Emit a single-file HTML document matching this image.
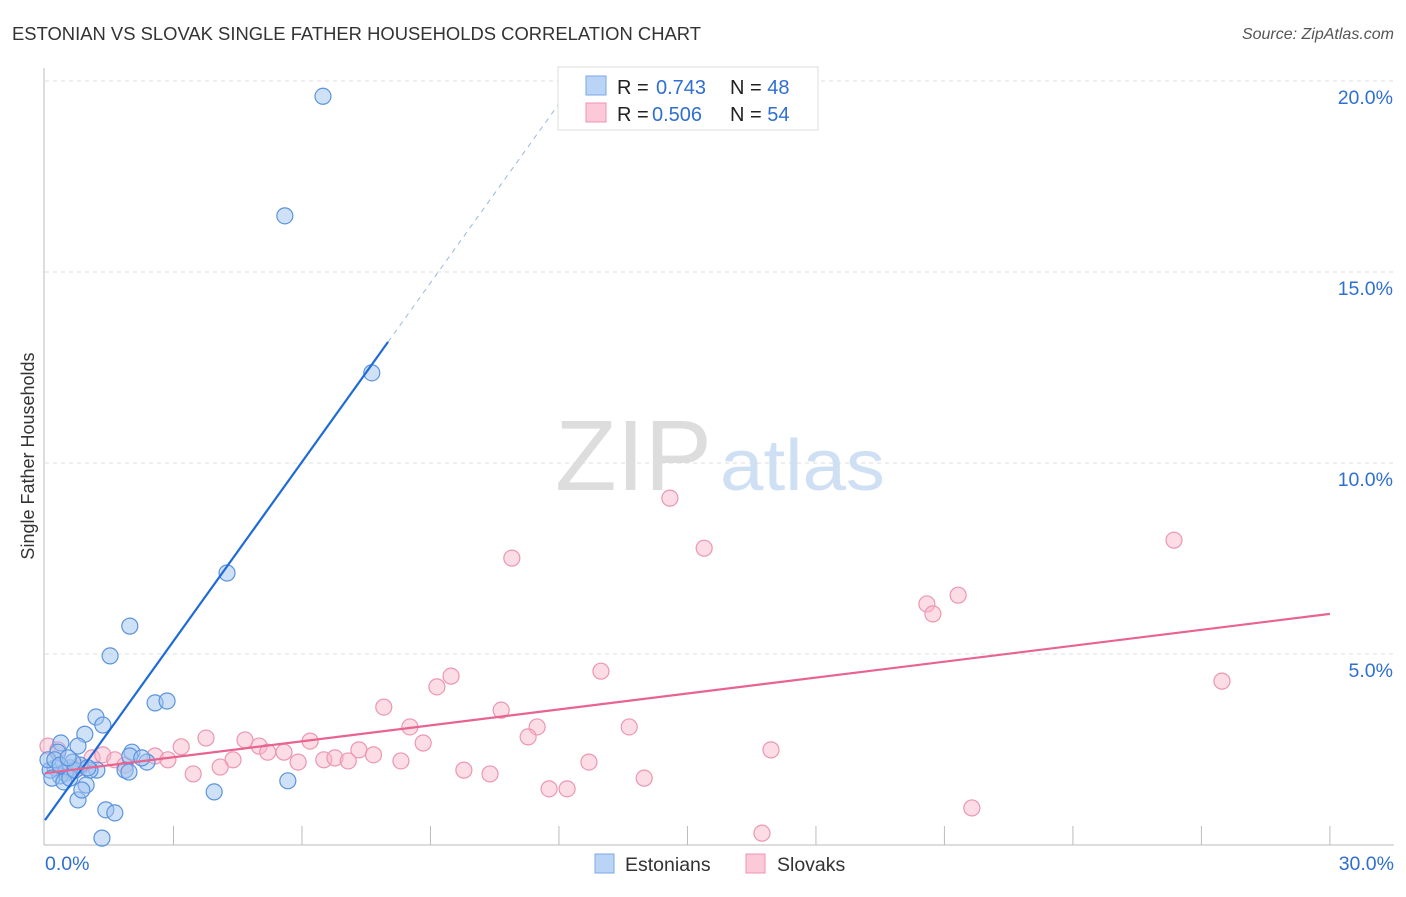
<!DOCTYPE html>
<html><head><meta charset="utf-8"><style>
body{margin:0;background:#fff;font-family:"Liberation Sans",sans-serif;}
svg text{font-family:"Liberation Sans",sans-serif;}
</style></head><body>
<svg id="chart" width="1406" height="892">
<text x="12" y="40" font-size="18" fill="#333" textLength="689" lengthAdjust="spacingAndGlyphs">ESTONIAN VS SLOVAK SINGLE FATHER HOUSEHOLDS CORRELATION CHART</text>
<text x="1394" y="39" font-size="16" fill="#555" font-style="italic" text-anchor="end">Source: ZipAtlas.com</text>
<text x="34" y="456" font-size="18" fill="#333" text-anchor="middle" transform="rotate(-90 34 456)">Single Father Households</text>
<g id="grid"></g>
<g><text x="555" y="490" font-size="100" fill="#ddd" font-family="Liberation Serif" textLength="157" lengthAdjust="spacingAndGlyphs">ZIP</text><text x="720" y="490" font-size="72" fill="#cfe0f4" textLength="165" lengthAdjust="spacingAndGlyphs">atlas</text></g>
<g id="pts"></g>
<g id="lines"></g>
<g>
<rect x="558" y="67" width="260" height="63" fill="#fff" stroke="#ddd"/>
<rect x="586" y="76" width="20" height="19" fill="#b9d4f5" stroke="#7aa9e6"/>
<rect x="586" y="103" width="20" height="19" fill="#fcc9d8" stroke="#f093b0"/>
<text x="617" y="94" font-size="20" fill="#222">R = <tspan fill="#2f6fd0" x="656">0.743</tspan><tspan fill="#222" x="730">N = </tspan><tspan fill="#2f6fd0">48</tspan></text>
<text x="617" y="121" font-size="20" fill="#222">R = <tspan fill="#2f6fd0" x="652">0.506</tspan><tspan fill="#222" x="730">N = </tspan><tspan fill="#2f6fd0">54</tspan></text>
</g>
<g>
<rect x="595" y="854" width="19" height="19" fill="#b9d4f5" stroke="#7aa9e6"/>
<text x="625" y="871" font-size="19.5" fill="#333">Estonians</text>
<rect x="746" y="854" width="19" height="19" fill="#fcc9d8" stroke="#f093b0"/>
<text x="777" y="871" font-size="19.5" fill="#333">Slovaks</text>
</g>
</svg>
<script>
const xTicks=[0,30];
const yTicks=[5,10,15,20];
const estX=[6.49,5.6,7.63,4.25,1.98,1.52,2.57,2.85,1.19,1.35,0.93,0.37,0.77,0.3,2.03,1.98,2.38,2.26,1.87,1.96,1.21,1.05,0.82,0.58,0.47,0.35,0.23,0.12,0.16,0.44,0.58,0.96,0.77,0.86,3.95,5.67,1.42,1.63,1.33,0.7,0.07,0.23,0.65,1.0,0.35,0.54];
const estY=[19.6,16.47,12.36,7.12,5.73,4.95,3.72,3.77,3.35,3.14,2.9,2.67,2.59,2.43,2.43,2.33,2.17,2.28,1.96,1.91,1.96,1.96,2.09,2.02,1.88,1.81,2.02,1.96,1.75,1.65,1.75,1.57,1.18,1.44,1.39,1.68,0.92,0.84,0.18,1.96,2.23,2.23,2.17,2.02,2.09,2.28];
const slvX=[14.59,10.9,15.39,26.36,20.59,21.32,20.73,12.98,9.48,9.15,27.48,7.91,10.65,8.52,11.49,13.64,11.28,8.83,3.76,4.67,6.19,3.18,5.0,5.2,5.58,7.33,7.67,16.95,4.39,6.51,6.77,7.08,5.91,8.31,12.7,2.57,2.87,4.09,3.46,9.78,10.39,13.99,11.77,12.19,21.64,16.74,0.07,0.3,1.1,1.35,1.63,1.87,0.82,0.54];
const slvY=[9.08,7.51,7.77,7.98,6.31,6.54,6.05,4.55,4.42,4.14,4.29,3.61,3.53,3.09,3.09,3.09,2.83,2.67,2.8,2.75,2.72,2.57,2.59,2.43,2.43,2.49,2.36,2.49,2.23,2.23,2.28,2.2,2.17,2.2,2.17,2.33,2.23,2.04,1.86,1.96,1.86,1.75,1.47,1.47,0.97,0.31,2.59,2.49,2.28,2.36,2.23,2.09,2.02,1.96];
const estLine=[0.65,1.563];
const slvLine=[1.88,0.139];
const NS="http://www.w3.org/2000/svg";
const sx=v=>45+v*42.83, sy=v=>845-v*38.2;
function mk(t,a,p){const e=document.createElementNS(NS,t);for(const k in a)e.setAttribute(k,a[k]);p.appendChild(e);return e;}
const grid=document.getElementById('grid');
for(const t of yTicks){
 const l=mk('line',{x1:45,x2:1394,y1:sy(t),y2:sy(t),stroke:'#ddd','stroke-dasharray':'4,4'},grid);
 
 
 const tx=mk('text',{x:1393,y:sy(t)+23,'font-size':19.5,fill:'#2f6fd0','text-anchor':'end'},grid);tx.textContent=t.toFixed(1)+'%';
 
 
}
const ax=mk('line',{x1:44,x2:44,y1:68,y2:845,stroke:'#bbb'},grid);


const bx=mk('line',{x1:44,x2:1394,y1:845,y2:845,stroke:'#bbb'},grid);


for(let i=1;i<=10;i++){const tk=mk('line',{x1:sx(i*3),x2:sx(i*3),y1:826,y2:845,stroke:'#bbb'},grid);
 
 }
xTicks.forEach((t,i)=>{const tx=mk('text',{x:i?1394:45,y:870,'font-size':19.5,fill:'#2f6fd0','text-anchor':i?'end':'start'},grid);tx.textContent=t.toFixed(1)+'%';
 
 });
const pts=document.getElementById('pts');
slvX.forEach((x,i)=>{const c=mk('circle',{cx:sx(x),cy:sy(slvY[i]),r:8,fill:'rgba(249,180,200,0.45)',stroke:'#ec96b2','stroke-width':1.2},pts);
 
 });
estX.forEach((x,i)=>{const c=mk('circle',{cx:sx(x),cy:sy(estY[i]),r:8,fill:'rgba(160,196,240,0.5)',stroke:'#5b93dd','stroke-width':1.2},pts);
 
 });
const lg=document.getElementById('lines');
const el=mk('line',{x1:sx(0),y1:sy(estLine[0]),x2:sx(8.01),y2:sy(estLine[0]+estLine[1]*8.01),stroke:'#1f6bd6','stroke-width':2.2},lg);


const ed=mk('line',{x1:sx(8.01),y1:sy(estLine[0]+estLine[1]*8.01),x2:sx(12.6),y2:sy(estLine[0]+estLine[1]*12.6),stroke:'#9bb8e0','stroke-width':1,'stroke-dasharray':'5,5'},lg);


const sl=mk('line',{x1:sx(0),y1:sy(slvLine[0]),x2:sx(30),y2:sy(slvLine[0]+slvLine[1]*30),stroke:'#e8638f','stroke-width':2.2},lg);


</script>
</body></html>
